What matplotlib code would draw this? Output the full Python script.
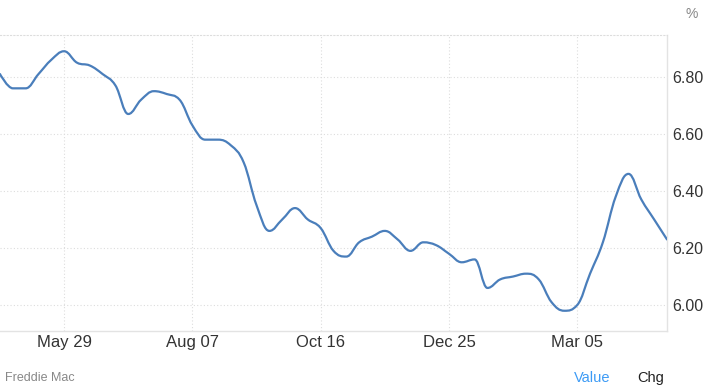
import numpy as np
import pandas as pd
import matplotlib
matplotlib.use("Agg")
import matplotlib.pyplot as plt
import matplotlib.dates as mdates
from matplotlib.path import Path
from matplotlib.patches import PathPatch

# weekly 30-yr fixed rate (Freddie Mac), Thursdays
start_date = "2025-04-24"
rates = [
    6.81, 6.76, 6.76, 6.81, 6.86, 6.89, 6.85, 6.84, 6.81, 6.77,
    6.67, 6.72, 6.75, 6.74, 6.72, 6.63, 6.58, 6.58, 6.56, 6.50,
    6.35, 6.26, 6.30, 6.34, 6.30, 6.27, 6.19, 6.17, 6.22, 6.24,
    6.26, 6.23, 6.19, 6.22, 6.21, 6.18, 6.15, 6.16, 6.06, 6.09,
    6.10, 6.11, 6.09, 6.01, 5.98, 6.00, 6.11, 6.22, 6.38, 6.46,
    6.37, 6.30, 6.23,
]
dates = pd.date_range(start_date, periods=len(rates), freq="7D")
tick_dates = ["2025-05-29", "2025-08-07", "2025-10-16", "2025-12-25", "2026-03-05"]
tick_labels = ["May 29", "Aug 07", "Oct 16", "Dec 25", "Mar 05"]
y_ticks = [6.00, 6.20, 6.40, 6.60, 6.80]

LINE = "#4a7ebb"
GRID = "#dddddd"
TEXT = "#333333"

plt.rcParams["font.family"] = ["Liberation Sans", "DejaVu Sans"]


def spline_path(xs, ys, smoothing=1.5):
    # highcharts-style spline: bezier control points from neighbours
    n = len(xs)
    lx, ly = list(xs), list(ys)
    rx, ry = list(xs), list(ys)
    denom = smoothing + 1
    for i in range(1, n - 1):
        px, py = xs[i], ys[i]
        ax_, ay = xs[i - 1], ys[i - 1]
        nx, ny = xs[i + 1], ys[i + 1]
        lcx = (smoothing * px + ax_) / denom
        lcy = (smoothing * py + ay) / denom
        rcx = (smoothing * px + nx) / denom
        rcy = (smoothing * py + ny) / denom
        corr = 0
        if rcx != lcx:
            corr = (rcy - lcy) * (rcx - px) / (rcx - lcx) + py - rcy
        lcy += corr
        rcy += corr
        if lcy > ay and lcy > py:
            lcy = max(ay, py)
            rcy = 2 * py - lcy
        elif lcy < ay and lcy < py:
            lcy = min(ay, py)
            rcy = 2 * py - lcy
        if rcy > ny and rcy > py:
            rcy = max(ny, py)
            lcy = 2 * py - rcy
        elif rcy < ny and rcy < py:
            rcy = min(ny, py)
            lcy = 2 * py - rcy
        lx[i], ly[i], rx[i], ry[i] = lcx, lcy, rcx, rcy
    verts = [(xs[0], ys[0])]
    codes = [Path.MOVETO]
    for i in range(1, n):
        verts += [(rx[i - 1], ry[i - 1]), (lx[i], ly[i]), (xs[i], ys[i])]
        codes += [Path.CURVE4] * 3
    return Path(verts, codes)


fig = plt.figure(figsize=(7.1, 3.87), dpi=100)
ax = fig.add_axes([0.0, 1 - 331 / 387, 667 / 710, (331 - 35) / 387])

xs = mdates.date2num(dates)
path = spline_path(list(xs), rates)
ax.add_patch(PathPatch(path, facecolor="none", edgecolor=LINE, lw=1.6,
                       capstyle="round", joinstyle="round", zorder=3))

ax.set_xlim(xs[0], xs[-1])
ax.set_ylim(5.909, 6.947)

ax.set_yticks(y_ticks)
ax.set_yticklabels([f"{v:.2f}" for v in y_ticks])
ax.yaxis.tick_right()
ax.set_xticks(mdates.date2num(pd.to_datetime(tick_dates)))
ax.set_xticklabels(tick_labels)
ax.tick_params(axis="both", length=0, colors=TEXT)
ax.tick_params(axis="y", pad=4, labelsize=11.5)
ax.tick_params(axis="x", pad=3, labelsize=12)

ax.grid(True, color=GRID, linestyle=(0, (1, 2)), lw=0.8)
ax.set_axisbelow(True)

ax.spines["left"].set_visible(False)
ax.spines["top"].set_color(GRID)
ax.spines["top"].set_linestyle((0, (1, 2)))
ax.spines["top"].set_linewidth(0.8)
ax.spines["right"].set_color("#e3e3e3")
ax.spines["bottom"].set_color("#e3e3e3")
ax.spines["right"].set_linewidth(1)
ax.spines["bottom"].set_linewidth(1)

fig.text(692 / 710, 1 - 14 / 387, "%", color="#888888", fontsize=10,
         ha="center", va="center")
fig.text(5 / 710, 1 - 378 / 387, "Freddie Mac", color="#888888", fontsize=9,
         ha="left", va="center")
fig.text(574 / 710, 1 - 378 / 387, "Value", color="#3d9bf5", fontsize=10.5,
         ha="left", va="center")
fig.text(637 / 710, 1 - 378 / 387, "Chg", color="#222222", fontsize=10.5,
         ha="left", va="center")

fig.savefig("out.png", dpi=100)
